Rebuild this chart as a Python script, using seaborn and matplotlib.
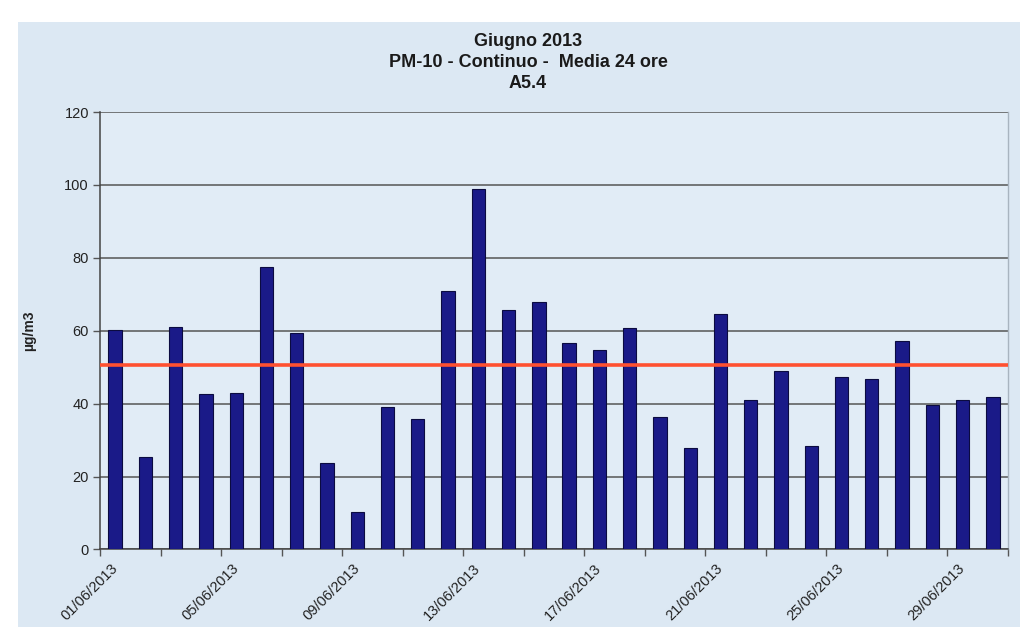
import numpy as np
import pandas as pd
import matplotlib
matplotlib.use("Agg")
import matplotlib.pyplot as plt
from matplotlib.patches import Rectangle
import seaborn as sns

# Daily PM-10 averages, June 2013 (station A5.4)
dates = [f"{d:02d}/06/2013" for d in range(1, 31)]
pm10 = [60.2, 25.3, 60.9, 42.5, 43.0, 77.4, 59.4, 23.6, 10.3, 39.1,
        35.8, 70.9, 98.8, 65.8, 67.9, 56.6, 54.7, 60.8, 36.3, 27.7,
        64.7, 41.1, 48.9, 28.3, 47.3, 46.8, 57.3, 39.6, 40.9, 41.7]
limit_value = 50.5
y_ticks = [0, 20, 40, 60, 80, 100, 120]
title_lines = ["Giugno 2013", "PM-10 - Continuo -  Media 24 ore", "A5.4"]
y_label = "µg/m3"

sns.set_theme(style="white")
plt.rcParams["font.family"] = ["Liberation Sans", "DejaVu Sans"]

W, H = 1034, 637
fig = plt.figure(figsize=(W / 100, H / 100), dpi=100, facecolor="white")

# light-blue chart area on a white page
bg = "#dce8f3"
fig.patches.append(Rectangle((18 / W, 1 - 627 / H), (1020 - 18) / W, (627 - 22) / H,
                             transform=fig.transFigure, facecolor=bg,
                             edgecolor="none", zorder=-10))

ax_w = 1008 - 100
ax = fig.add_axes([100 / W, 1 - 549.4 / H, ax_w / W, (549.4 - 112) / H])
ax.set_facecolor("#e1ecf6")

df = pd.DataFrame({"data": dates, "pm10": pm10})
sns.barplot(data=df, x="data", y="pm10", ax=ax, color="#1a1a88",
            width=0.44, saturation=1, edgecolor="#0b0b40", linewidth=0.8,
            zorder=3)

# daily limit line
ax.axhline(limit_value, color="#ff5030", linewidth=2.6, zorder=4)

ax.set_ylim(0, 120)
ax.set_xlim(-0.5, len(dates) - 0.5)
ax.set_yticks(y_ticks)
ax.set_yticklabels([str(v) for v in y_ticks], fontsize=10.5, color="#222222")
ax.yaxis.grid(True, color="#555555", linewidth=1.1, zorder=1)
ax.tick_params(axis="y", which="major", direction="out", length=5, width=1,
               color="#555555", left=True, pad=3)

# date labels every fourth day, tick marks every second category boundary
pos = np.arange(len(dates))
ax.set_xticks(pos[::4])
ax.set_xticklabels([dates[i] for i in pos[::4]], rotation=45, ha="right",
                   va="center", rotation_mode="anchor", fontsize=10.5,
                   color="#222222")
ax.tick_params(axis="x", which="major", length=0, pad=12)
ax.set_xticks(np.arange(-0.5, len(dates), 2), minor=True)
ax.tick_params(axis="x", which="minor", direction="out", length=5, width=1,
               color="#555555", bottom=True)

for side in ["left", "bottom"]:
    ax.spines[side].set_color("#444444")
    ax.spines[side].set_linewidth(1.1)
ax.spines["top"].set_visible(False)
ax.spines["right"].set_color("#a8b4c0")
ax.spines["right"].set_linewidth(1)

ax.set_xlabel("")
ax.set_ylabel(y_label, fontsize=10, fontweight="bold", color="#222222")
ax.yaxis.set_label_coords(-(100 - 36) / ax_w, 0.5)

cx = 528 / W
for line, base in zip(title_lines, [45.5, 67, 88.5]):
    fig.text(cx, 1 - base / H, line, ha="center", va="baseline",
             fontsize=13, fontweight="bold", color="#1a1a1a")

fig.savefig("out.png", dpi=100, facecolor="white")
